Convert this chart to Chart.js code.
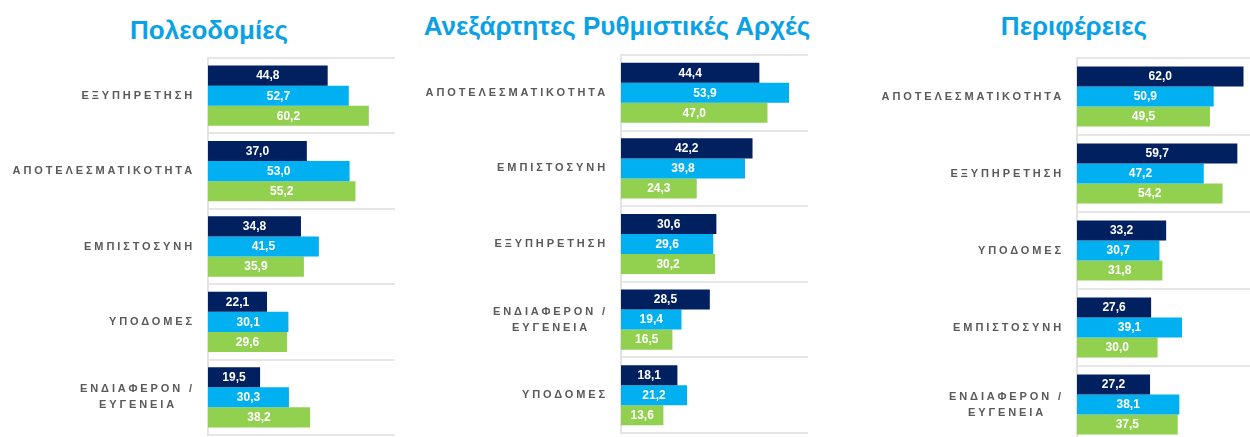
<!DOCTYPE html>
<html>
<head>
<meta charset="utf-8">
<script src="https://cdn.jsdelivr.net/npm/chart.js@4.4.1/dist/chart.umd.min.js"></script>
<style>
html, body { margin:0; padding:0; width:1250px; height:437px; overflow:hidden; background:#fff; }
.t { position:absolute; font:bold 26px "Liberation Sans", Arial, sans-serif; color:#0AA2E6; line-height:30px; white-space:nowrap; transform:translateX(-50%); }
.c { position:absolute; }
</style>
</head>
<body>
<div class="t" id="t1" style="left:209px; top:15px;"></div>
<div class="t" id="t2" style="left:617px; top:11px;"></div>
<div class="t" id="t3" style="left:1074px; top:11px;"></div>

<div class="c" style="left:0px; top:50px; width:400px; height:387px;"><canvas id="c1"></canvas></div>
<div class="c" style="left:415px; top:47px; width:398px; height:388px;"><canvas id="c2"></canvas></div>
<div class="c" style="left:870px; top:50px; width:400px; height:395px;"><canvas id="c3"></canvas></div>

<script>
// ---- data ----
const titles = ['Πολεοδομίες', 'Ανεξάρτητες Ρυθμιστικές Αρχές', 'Περιφέρειες'];
const seriesNames = ['Σειρά 1', 'Σειρά 2', 'Σειρά 3'];

const categories1 = ['ΕΞΥΠΗΡΕΤΗΣΗ', 'ΑΠΟΤΕΛΕΣΜΑΤΙΚΟΤΗΤΑ', 'ΕΜΠΙΣΤΟΣΥΝΗ', 'ΥΠΟΔΟΜΕΣ', ['ΕΝΔΙΑΦΕΡΟΝ /', 'ΕΥΓΕΝΕΙΑ   ']];
const seriesA1 = [44.8, 37.0, 34.8, 22.1, 19.5];
const seriesB1 = [52.7, 53.0, 41.5, 30.1, 30.3];
const seriesC1 = [60.2, 55.2, 35.9, 29.6, 38.2];

const categories2 = ['ΑΠΟΤΕΛΕΣΜΑΤΙΚΟΤΗΤΑ', 'ΕΜΠΙΣΤΟΣΥΝΗ', 'ΕΞΥΠΗΡΕΤΗΣΗ', ['ΕΝΔΙΑΦΕΡΟΝ /', 'ΕΥΓΕΝΕΙΑ   '], 'ΥΠΟΔΟΜΕΣ'];
const seriesA2 = [44.4, 42.2, 30.6, 28.5, 18.1];
const seriesB2 = [53.9, 39.8, 29.6, 19.4, 21.2];
const seriesC2 = [47.0, 24.3, 30.2, 16.5, 13.6];

const categories3 = ['ΑΠΟΤΕΛΕΣΜΑΤΙΚΟΤΗΤΑ', 'ΕΞΥΠΗΡΕΤΗΣΗ', 'ΥΠΟΔΟΜΕΣ', 'ΕΜΠΙΣΤΟΣΥΝΗ', ['ΕΝΔΙΑΦΕΡΟΝ /', 'ΕΥΓΕΝΕΙΑ   ']];
const seriesA3 = [62.0, 59.7, 33.2, 27.6, 27.2];
const seriesB3 = [50.9, 47.2, 30.7, 39.1, 38.1];
const seriesC3 = [49.5, 54.2, 31.8, 30.0, 37.5];

// ---- styling ----
const FONT = '"Liberation Sans", Arial, sans-serif';
const COLORS = ['#002060', '#00B0F0', '#92D050'];
Chart.defaults.font.family = FONT;

document.getElementById('t1').textContent = titles[0];
document.getElementById('t2').textContent = titles[1];
document.getElementById('t3').textContent = titles[2];

const fmt = v => v.toFixed(1).replace('.', ',');

const valuePlugin = {
  id: 'valueLabels',
  afterDatasetsDraw(chart) {
    const ctx = chart.ctx;
    ctx.save();
    ctx.letterSpacing = '0px';
    ctx.font = 'bold 12px ' + FONT;
    ctx.fillStyle = '#ffffff';
    ctx.textAlign = 'center';
    ctx.textBaseline = 'middle';
    chart.data.datasets.forEach((ds, i) => {
      chart.getDatasetMeta(i).data.forEach((el, j) => {
        const p = el.getProps(['x', 'y', 'base'], true);
        ctx.fillText(fmt(ds.data[j]), (p.x + p.base) / 2, p.y + 0.5);
      });
    });
    ctx.restore();
  }
};

const spacingPlugin = {
  id: 'tickSpacing',
  beforeDraw(chart) { chart.ctx.letterSpacing = '2.9px'; },
  afterDraw(chart) { chart.ctx.letterSpacing = '0px'; }
};

function makeChart(id, cats, vals, xmax, catPct, axisW) {
  return new Chart(document.getElementById(id), {
    type: 'bar',
    data: {
      labels: cats,
      datasets: vals.map((v, i) => ({
        label: seriesNames[i],
        data: v,
        backgroundColor: COLORS[i],
        borderWidth: 0,
        categoryPercentage: catPct,
        barPercentage: 1
      }))
    },
    options: {
      indexAxis: 'y',
      responsive: true,
      maintainAspectRatio: false,
      animation: false,
      layout: { padding: { top: 8, bottom: 2, left: 0, right: 5 } },
      plugins: { legend: { display: false }, tooltip: { enabled: false }, title: { display: false } },
      scales: {
        x: { display: false, min: 0, max: xmax },
        y: {
          grid: { color: '#e6e6e6', lineWidth: 2, drawTicks: false, offset: true },
          border: { color: '#e3e3e3', width: 2 },
          ticks: {
            color: '#595959',
            font: { family: FONT, size: 11, weight: 'bold', lineHeight: 1.45 },
            padding: 13,
            autoSkip: false
          },
          afterFit: (s) => { s.width = axisW; s.paddingTop = 0; s.paddingBottom = 0; }
        }
      }
    },
    plugins: [spacingPlugin, valuePlugin]
  });
}

makeChart('c1', categories1, [seriesA1, seriesB1, seriesC1], 70, 0.8, 208);
makeChart('c2', categories2, [seriesA2, seriesB2, seriesC2], 60, 0.795, 206);
makeChart('c3', categories3, [seriesA3, seriesB3, seriesC3], 70, 0.78, 207);
</script>
</body>
</html>
